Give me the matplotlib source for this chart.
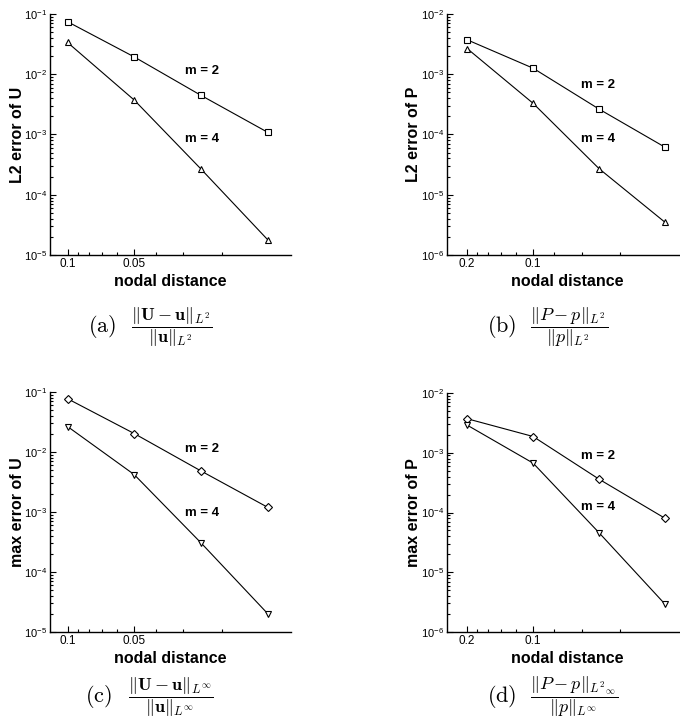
import matplotlib
matplotlib.use("Agg")
import matplotlib.pyplot as plt
from matplotlib.ticker import FixedLocator, FixedFormatter, LogLocator, NullFormatter

plt.rcParams['font.family'] = ['Liberation Sans', 'DejaVu Sans']

# nodal distances
h_u = [0.1, 0.05, 0.025, 0.0125]
h_p = [0.2, 0.1, 0.05, 0.025]

# (a) L2 error of U
l2u_m2 = [0.0745, 0.0194, 4.47e-3, 1.09e-3]
l2u_m4 = [0.0337, 3.73e-3, 2.68e-4, 1.80e-5]
# (b) L2 error of P
l2p_m2 = [3.73e-3, 1.26e-3, 2.64e-4, 6.15e-5]
l2p_m4 = [2.67e-3, 3.29e-4, 2.71e-5, 3.49e-6]
# (c) max error of U
mxu_m2 = [0.0773, 0.0203, 4.84e-3, 1.20e-3]
mxu_m4 = [0.0266, 4.2e-3, 3.07e-4, 2.03e-5]
# (d) max error of P
mxp_m2 = [3.71e-3, 1.87e-3, 3.61e-4, 8.0e-5]
mxp_m4 = [2.9e-3, 6.7e-4, 4.58e-5, 2.92e-6]

xmaj_u = [0.1, 0.05]
xmin_u = [0.09, 0.08, 0.07, 0.06, 0.04, 0.03, 0.02]
xmaj_p = [0.2, 0.1]
xmin_p = [0.18, 0.16, 0.14, 0.12, 0.08, 0.06, 0.04]

cap_tags = ['(a)', '(b)', '(c)', '(d)']
cap_fracs = [
    r'$\dfrac{\|\mathbf{U}-\mathbf{u}\|_{L^2}}{\|\mathbf{u}\|_{L^2}}$',
    r'$\dfrac{\|P-p\|_{L^2}}{\|p\|_{L^2}}$',
    r'$\dfrac{\|\mathbf{U}-\mathbf{u}\|_{L^\infty}}{\|\mathbf{u}\|_{L^\infty}}$',
    r'$\dfrac{\|P-p\|_{L^2{}_\infty}}{\|p\|_{L^\infty}}$',
]

W, H = 680, 727
fig = plt.figure(figsize=(W / 100, H / 100), dpi=100)


def make_ax(x0, y_top, y_bot):
    return fig.add_axes([x0 / W, 1 - y_bot / H, 241 / W, (y_bot - y_top) / H])


panels = [
    dict(ax=make_ax(50, 14, 255), h=h_u, s2=l2u_m2, s4=l2u_m4, mk=('s', '^'),
         ylim=(1e-5, 1e-1), xlim=(0.12, 0.0098), maj=xmaj_u, mnr=xmin_u,
         ylabel='L2 error of U', t2=(0.63, 0.765), t4=(0.63, 0.48)),
    dict(ax=make_ax(446.7, 14, 255), h=h_p, s2=l2p_m2, s4=l2p_m4, mk=('s', '^'),
         ylim=(1e-6, 1e-2), xlim=(0.248, 0.0197), maj=xmaj_p, mnr=xmin_p,
         ylabel='L2 error of P', t2=(0.626, 0.705), t4=(0.626, 0.48)),
    dict(ax=make_ax(50, 392, 632), h=h_u, s2=mxu_m2, s4=mxu_m4, mk=('D', 'v'),
         ylim=(1e-5, 1e-1), xlim=(0.12, 0.0098), maj=xmaj_u, mnr=xmin_u,
         ylabel='max error of U', t2=(0.63, 0.761), t4=(0.63, 0.497)),
    dict(ax=make_ax(446.7, 393, 632), h=h_p, s2=mxp_m2, s4=mxp_m4, mk=('D', 'v'),
         ylim=(1e-6, 1e-2), xlim=(0.248, 0.0197), maj=xmaj_p, mnr=xmin_p,
         ylabel='max error of P', t2=(0.626, 0.737), t4=(0.626, 0.525)),
]

for p in panels:
    ax = p['ax']
    for vals, mk in zip((p['s2'], p['s4']), p['mk']):
        ms = 4.2 if mk == 'D' else 5
        ax.plot(p['h'], vals, color='black', lw=0.8, marker=mk, ms=ms,
                mfc='white', mec='black', mew=0.8)
    ax.set_xscale('log')
    ax.set_yscale('log')
    ax.set_xlim(*p['xlim'])
    ax.set_ylim(*p['ylim'])
    ax.xaxis.set_major_locator(FixedLocator(p['maj']))
    ax.xaxis.set_major_formatter(FixedFormatter([f"{v:g}" for v in p['maj']]))
    ax.xaxis.set_minor_locator(FixedLocator(p['mnr']))
    ax.xaxis.set_minor_formatter(NullFormatter())
    ax.yaxis.set_major_locator(LogLocator(base=10, numticks=10))
    ax.yaxis.set_minor_locator(LogLocator(base=10, subs=range(2, 10), numticks=10))
    ax.yaxis.set_minor_formatter(NullFormatter())
    for side in ('top', 'right'):
        ax.spines[side].set_visible(False)
    for side in ('left', 'bottom'):
        ax.spines[side].set_linewidth(1.0)
    ax.tick_params(which='both', direction='in', width=0.8)
    ax.tick_params(which='major', length=4.5)
    ax.tick_params(which='minor', length=2.5)
    ax.tick_params(axis='y', which='major', labelsize=8, pad=2)
    ax.tick_params(axis='x', which='major', labelsize=8.5, pad=2)
    ax.set_ylabel(p['ylabel'], fontsize=11.5, fontweight='bold')
    ax.yaxis.set_label_coords(-0.105, 0.5)
    ax.set_xlabel('nodal distance', fontsize=11.5, fontweight='bold')
    ax.xaxis.set_label_coords(0.5, -0.08)
    ax.text(*p['t2'], 'm = 2', transform=ax.transAxes, ha='center', va='center',
            fontsize=9.5, fontweight='bold')
    ax.text(*p['t4'], 'm = 4', transform=ax.transAxes, ha='center', va='center',
            fontsize=9.5, fontweight='bold')

cap_pos = [(88, 327), (487, 327), (85, 697), (487, 697)]
for (cx, cy), tag, frac in zip(cap_pos, cap_tags, cap_fracs):
    fig.text(cx / W, 1 - cy / H, r'$\mathrm{' + tag + '}$', ha='left',
             va='center', fontsize=16, math_fontfamily='cm')
    fig.text((cx + 43) / W, 1 - cy / H, frac, ha='left', va='center',
             fontsize=13, math_fontfamily='cm')

fig.savefig('out.png', dpi=100)
